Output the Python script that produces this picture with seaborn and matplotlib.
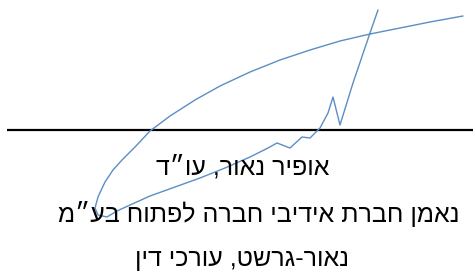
import matplotlib
matplotlib.use("Agg")
import matplotlib.pyplot as plt
import seaborn as sns

# signature stroke, pixel coordinates
sig_x = [463, 430, 400, 370, 340, 310, 280, 250, 220, 195, 170, 150, 135, 122, 113, 105, 98, 95,
         98, 107, 117, 130, 150, 175, 200, 225, 250, 268, 277, 290, 302, 310, 320, 328, 333, 340,
         353, 370, 378]
sig_y = [16, 22, 28, 34, 41, 50, 60, 72, 86, 100, 116, 131, 147, 160, 170, 182, 197, 208,
         215, 217, 211, 205, 196, 187, 178, 168, 157, 148, 143, 148, 137, 138, 128, 113, 97, 125,
         83, 33, 10]

# signature line under the scribble
rule_x = [7, 473]
rule_y = [130, 130]

# caption lines (logical order)
lines = ["אופיר נאור, עו״ד",
         "נאמן חברת אידיבי חברה לפתוח בע״מ",
         "נאור-גרשט, עורכי דין"]
line_x = [243, 259, 242]
line_y = [167, 214, 259]

sns.set_theme(style="white")
plt.rcParams['font.family'] = ['Liberation Sans', 'DejaVu Sans']

fig = plt.figure(figsize=(4.73, 2.76), dpi=100)
ax = fig.add_axes([0, 0, 1, 1])

ax.plot(rule_x, rule_y, color="black", lw=1.6, solid_capstyle="butt")
sns.lineplot(x=sig_x, y=sig_y, sort=False, estimator=None, ax=ax,
             color="#5b8ec4", lw=1.0)

# matplotlib has no bidi support, so reverse to visual order
for txt, x, y in zip(lines, line_x, line_y):
    ax.text(x, y, txt[::-1], ha="center", va="center", fontsize=18, color="black")

ax.set_xlim(0, 473)
ax.set_ylim(276, 0)
ax.axis("off")

fig.savefig("out.png", dpi=100, facecolor="white")
